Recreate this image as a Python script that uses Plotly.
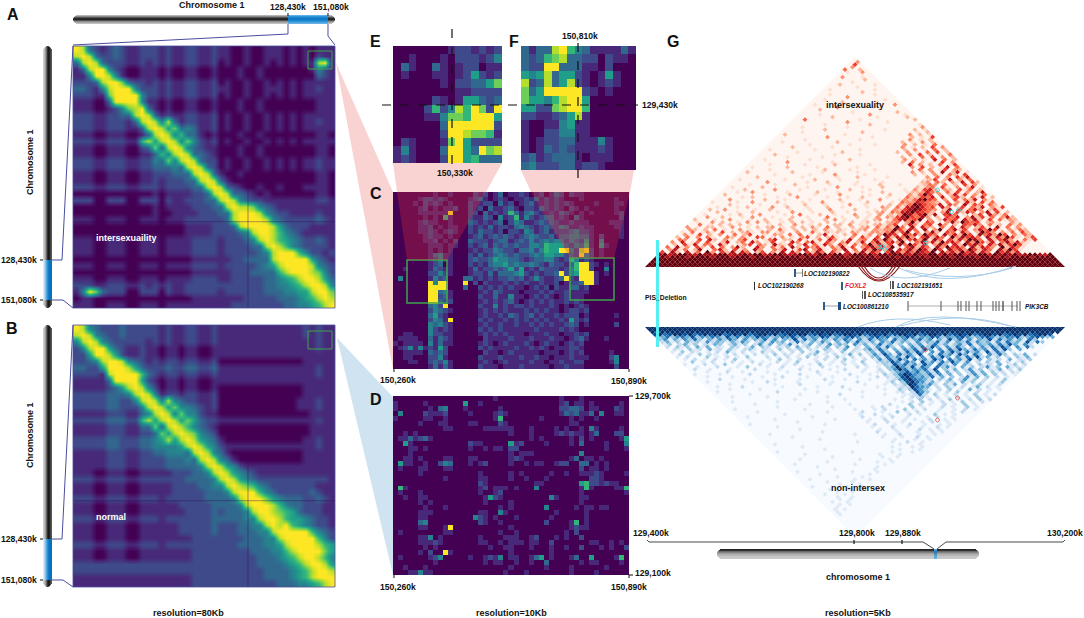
import plotly.graph_objects as go

W, H = 1084, 618

# panel A, 80Kb, one digit per cell
hic_a = [
"9832123211222121122112 110010011101010111",
"8983223211222121122112 110010011101010211",
"3898322211212121122112 010010010101011891",
"1389942100111010011001 000100100000001421",
"1149984100111010011001 000100100000000321",
"2223899732212121122112 010010010101011111",
"3321489994222121122112 110010011101011211",
"2221179999422121122112 010010010101011111",
"1110039999411010011001 000100100000000111",
"1110012478931010011001 000100100000000111",
"2221122338983121122112 010010010101011111",
"2221122213898483122112 010010010101011211",
"2221122211389857343112 010010010101011111",
"1110011100138984633101 000100100000000110",
"2221122211685898474212 010010010101011111",
"1110011100237389843211 000100100000000110",
"1110011100113648983321 000100100000000110",
"2221122211224374898322 010010010101011211",
"2221122211223334389832 010010010101011211",
"1110011100112223338983 100100000000000110",
"1110011100112122233898 310000000000000110",
"2221122211222122223389 832100100100011110",
"0000000000001011112238 983321010000000110",
"2220022200222021122233 898432211111111221",
"0000000000001011112223 389887432111111111",
"0000000000001001111222 338999843221111211",
"1110011100111011122222 238999984322222321",
"0000000000000000011112 223899998532221111",
"0000000000000000011112 222348998643211111",
"1110011100111011112222 122234898654322321",
"1110011100111011112222 122223389864322221",
"1110011100111011112222 122222348999642212",
"0000000000000000001111 112233338999995321",
"1110011100111011112222 122222345899998432",
"0000000000000000001111 112223333689998742",
"1110011100111011112222 112222233456899853",
"2221122211212121122222 222222233445689984",
"1497322200222021122222 122222233344558997",
"0110000000000000001111 111122222333456898",
"1110011100111011111111 112222222233445689",
]

# panel B, 80Kb
hic_b = [
"9843222322222121122112 111111111111121211",
"8984322322222121122112 111111111111121211",
"4898432222212121122112 111111111111111211",
"2489953211211011011001 111111111111111211",
"2259985211211011011001 111111111111111111",
"2234899843212122122112 000000000000011111",
"3322599985322232233223 111111111111111211",
"2222189999632122122112 111111111111111211",
"1111139999521011011001 111111111111111111",
"1111123589842011011001 000000000000011111",
"2222233348984122122112 000000000000011111",
"2222233224898484322112 000000000000111211",
"2222233222489857443212 000000000000111211",
"1111122211348984744211 000000000000001111",
"2222233322685898575322 111111111111111211",
"1111122211337389864321 000000000000001111",
"1111122211223758987432 000000000000001111",
"2222233222334585898543 100000000000011211",
"2222233222334444589854 211111111111111211",
"1111122211223344438984 310000000000011111",
"1111122211222233343898 431000000000011111",
"1111122211222233333489 854211111111111111",
"1110011100111112223348 985432111111111111",
"2221122211222222233334 898543222222222221",
"1110011100111112222334 489876432222222111",
"1110011100111112222233 348999643222223211",
"2221122211222122222233 334899975433322321",
"1110011100111111222223 333489998643322211",
"1110011100111111122223 233348998765322211",
"2221122211222122222223 333344899865543221",
"1110011100111111222223 222334489896543221",
"1110011100111111222223 222333448999996432",
"1110011100111111112222 222233344899999642",
"2221122211222122222222 222333344589999865",
"1110011100111111112222 222223334468999975",
"1110011100111111112222 222222333456899864",
"2222222222222222222222 222222333345689985",
"2222222222222222222222 222222233334568998",
"1111111111111111112222 222222233334568999",
"1111111111111111112222 222222222333445689",
]

# panel C, 10Kb, intersexuality
hic_c = [
"0000000 0100 1000 02120130112101201320211000 000000",
"0000012 2121 0000 12310121011213121210001000 000100",
"0000102 1210 1000 21122031201231121212100001 000110",
"0000012 0101 1200 21203112310221321210210100 000100",
"0000011 1111 9000 22031212631342112132101010 000120",
"0000001 0106 1000 21132041261421233121031000 000020",
"0000012 1100 1000 32121230243112323211211100 001110",
"0000011 2010 1100 21213122134321232243112110 000110",
"0000011 2101 2100 21322120221431231222342210 000010",
"0000001 2110 1000 12312323212343223133443310 200010",
"0000001 1201 0200 32221233123242343442432510 400000",
"0000000 1110 1100 21231323232244365553243610 510000",
"0000000 1010 1000 12122432213342465599428920 100000",
"0000000 1341 1000 21312343232234355442329420 100000",
"0000000 1241 1000 23223544332123344212641210 000000",
"0000000 1230 1000 21213445343343213221369921 010000",
"0010000 1321 1000 13122323525121322212469920 040000",
"0000000 2242 1000 12213133345212122392459991 010000",
"0400000 1423 0003 31212122323124211239219991 000000",
"0000000 9499 0009 02021112121211211201223991 000000",
"0000000 9999 0003 00212121211012120211331200 000000",
"0000000 9934 1000 00121321110111212112111100 000000",
"0000000 9923 1000 00211311411012121012111000 000000",
"0000000 9932 2000 00121212310121212112121000 000000",
"0000000 3429 0000 00211412122121112101012100 000000",
"0000000 2432 1000 00121212111212121101221200 000000",
"0000000 3521 0000 00121121321231211212220100 000100",
"0000000 2431 9000 00212112121212121121521200 000000",
"0000000 4342 1000 00121121121121212112320100 000200",
"0000000 4212 1000 00212121111112111121210000 000000",
"0011000 4221 1000 00121212111011121101121200 000000",
"0111100 3132 1000 00021111211121112110123100 010000",
"1011110 4131 1000 00121012111210121101212000 000000",
"0124141 2152 0000 00212111121121210111221000 000000",
"0011110 3232 0000 00021101211111011101212000 001000",
"0011000 2241 0000 00211121112112110111211100 002400",
"0001100 2324 1000 00121012111121101121122000 001400",
"0000000 1313 1000 00211101112111110112111000 000200",
]

# panel D, 10Kb, normal
hic_d = [
"00000000000000000000100000000000010001000000000",
"10000010000000500100000000000000012011010000010",
"10000001034000100000010000000000022332011000210",
"04000021112000010000121000000000013231130400110",
"10000011001000000000160000000100000101001000000",
"00000100011000011000021000000000000110000000000",
"00000000001100000011111100010000101001041000010",
"00101000000000000000000100010000121211013000220",
"01131231000000000000000000010100000102010000015",
"00510000000000021100000512000010000103000010004",
"00011010000000010010110220000000000000000010001",
"00010000000000000000000101110000000004000000000",
"00110100001100011000000121000000000130110100000",
"05110010024300010120000100101100122003301010000",
"01000110001100000000000000000000000002011010000",
"00000100000000000100000101000001001001112100001",
"00000000001000000110000100100010000000022100000",
"00000000000000000210000000001100000005622121100",
"06100000000000000120111010004000000001610000116",
"01000100000000000100120000000000000001000000001",
"00100110000000000015210000000004100001100000000",
"00000101000000000010000100000000000001000000000",
"00000010001000000000010100000040000010110110000",
"00000111000000000110041000000000100000100000000",
"00000110000000004210100010000001000000100000000",
"00000340000000000210010000000020000160100000000",
"00000110001900000000000100000000000121100000000",
"01000000001100000000010010000000001020000000000",
"00000114010000000100001110012000101002000000000",
"00000111210000000110010111011002000000011001010",
"00000010100000000001001100010001001002000101002",
"00000102009100000000000100000001000000000000000",
"01000001240000010012140110013501000130050000160",
"00000000100000000010110010010030000001011000010",
"00100010000000000000000100000010000100000010000",
"00011411000000000000001000100000000100001000000",
]

# panel E / F, zoomed loop regions
hic_e = [
"00000001221212",
"00100010222124",
"03100310122011",
"01000110125212",
"00000010223357",
"00000000112222",
"00000210155323",
"00002624869729",
"00001147769995",
"00000039999992",
"00000029987761",
"02100017952222",
"14100039953978",
"12100029956333",
]
hic_f = [
"313389643111131",
"323678332202110",
"322993331102000",
"545835521015100",
"823835821012100",
"735999992101000",
"755468995000000",
"552278996000000",
"221123581000000",
"100114511000000",
"100224411000000",
"101223311141000",
"101323211121000",
"231233310111000",
"342223312210000",
]

# panel G, one row per distance from the diagonal, 5Kb
tri_top = [
"888888888888888888888888888888888888888888888888888888888888888888888888888888888888",
"888888888888888888888888888888888888888888888888888888888888888888888888888888888888",
"888888888888888888888888888888888888888888888888888888888888888888888888888888888888",
"888888888888888888888888888888888888888888888888888888888888888888888888888888888888",
"88788878888788878887888878888788887888788888788878888878888788887888787888878888",
"7867887687778867787886788767887688788678878688788768778868788677886878786788768",
"5072061408305271640250317063052740520613 72640586374865807463857264085736",
"0361402700462051307300426015703610427040 63852706473862850746385264073851",
"4071305205040372006304140720535104271503 57463810572640738564072653082641",
"0205160430620013504207215026041630520414 83625074852603740628574063725851",
"3060140510260240630150106304610520360260 47256380147362856407385260473621",
"0430050620310350101460220510140630160340 638407256381740526387406257310415",
"2040304100420310540103010350202510030520 50726483057264083756407263851025",
"0310502030040250010320404010260102040130 3865074628540736285074638503142",
"1040131050202310330120030041021210320133 247258040372054063028530314052",
"0320204010030101020410202020310210123032 33852640703804725036485103142",
"3010220103001020230102020310402002023041 4284070632040506302510704031",
"0040102020201000102003001020022030110231 350263045073020546304120413",
"0100302001030302001020201002001020120102 34038205400372854502310031",
"2000100300010020010200010020301000102301 4674580302645063720504132",
"0030020001030001000200100040010020103032 578547302054603725140362",
"0100001020003000010040002001000300103021 38746827056401025063140",
"0002000100200001003000100020010001023043 6786542037052640371502",
"0200300000100200010001000300002000102032 578754302705146302510",
"0010001020000300200010002001000010032041 67864506301504260315",
"0000200000100001000200010000300100002032 4875436053071530420",
"1000010030000200001000300010000200001043 365432040316205140",
"0003000000200010000100000200010003000132 47854030514260310",
"0000010200001000300000100010020000100042 2546060352041602",
"0200000001000020000100003000001000200031 485030261503140",
"0001003000000100000200010000100020000122 36430415030260",
"0000200000300001000010000200010000001031 5620320514020",
"0100000200000000100000300001000200000021 340510302601",
"0000100001000200000010000100002000100012 43040205130",
"0000000300000001000200000100001000000023 0420316052",
"0100000000100000200001000000100000000012 502603140",
"0000200000000100000010002000001000000030 40305260",
"0000000100000010000300000100000000020103 1042050",
"0200000000200000100000010000000000302030 702601",
"0000010000000000200001000010000000040301 50320",
"0100000020000010000000100000000003050201 6040",
"0000100000010000020000001000000060302040 150",
"0000000300000000100000000000002040201050 30",
"0010000000010000000200000000003020106040 2",
"0000001000000100000000000000020104050302",
"000200000000000100001000000000305020104",
"00000001000000002000000000020301040502",
"0100000000100000000100000000203010402",
"000002000000010000000000000301020503",
"00000000100000001000010000030201040",
"0010000000000200000000000020103020",
"000000100000000001000000000301020",
"00000000003000000001000000020105",
"0200000000000100000000000030201",
"000010000000000020000000000102",
"00000000200000000000100000201",
"0001000000001000000000000003",
"000000010000000020000000001",
"00000000000300000001000000",
"0040000000000100000000002",
"000000020000000010000020",
"00001000000000300000010",
"0000000000100000000200",
"000200000000000100000",
"00000040000001000000",
"0100000000000000030",
"000000200000010000",
"00100000000000100",
"0000003000000000",
"001000000001000",
"00000000200000",
"0100000000100",
"000000100000",
"00200000010",
"0000100000",
"000000200",
"03000100",
"0000000",
"010030",
"40020",
"0300",
"050",
"03",
"0",
]

tri_bottom = [
"888888888888888888888888888888888888888888888888888888888888888888888888888888888888",
"888888888888888888888888888888888888888888888888888888888888888888888888888888888888",
"888888888888888888888888888888888888888888888888888888888888888888888888888888888888",
"78678878678788678786788786787886787867887867878678878678878678786788786787867887",
"5463564735465374635476534657463547635467 5346756345763547635467534675346573467534",
"3514253631425364152436251437263514253641 526354163524635142736251437263524163",
"2413042315243142530241534026314253041526 3241536243152436251436253415263417263",
"1302413021430241302514032510240315243052 4136241304251362413526143526374152",
"2031304140210320140320213041302140315020 4152630415263741526304152637405162",
"0210312041203102310210302130210320140213 5263041536274051637426351627304",
"1030210102041020103120102030140210302102 41630526374051637426351726301",
"0201030210102010201030210102301020140302 527416352704163527416305263031402",
"1020003010201030002010201030102031020103 41635274051637405263724130203140",
"0102010201030010001030102001020103010201 5263741635274063527140312040213",
"0030102000201020100201030002001020103002 337526407352637415020314020130",
"1000201030010002010010200103010020102001 32746352740631504203120401302",
"0010002000103000100200010002001000201010 3485372640635204130251304121",
"0200100010000200001000201000100200010020 358635462703140251302140203",
"0001000200100001000100000200010000100120 24574635260413025140312021",
"1000010000020000100002000100000200010031 3687543625140302514030201",
"0010000100000100020000100001000010002021 378645361403025140302010",
"0000200001000001000010000200010000100012 47865420314025130201030",
"0100000000100200000100000010000200000130 3786524103204130201030",
"0000010000000010000200000100000010001021 387435203140201301020",
"0010000200000001000000100002000000100012 28654020310201402010",
"0000100000100000000100000000100000010031 3753102030104020101",
"0100000000000200000001000000001000000120 275301020301020100",
"0000000100000000010000000200000000100011 26203010201030102",
"0001000000100000000000100000010000000102 2310201020103010",
"0000000000000001000000000100000000010010 302010301020302",
"0010000000010000000001000000000000001020 30102010301020",
"00000010000000000100000001000000 020003020100201030100",
"00000000001000000000010000000 10200100301000201003010",
"0100000000000001000000000 10001020003010200100102010",
"0000010000000000000100000 02000100301020001001020",
"0000000000100000000000000 100200100020100301010",
"0010000000000001000000000 20001020010001020010",
"0000000100000000000100000 0100200010100200101",
"0000000000010000000000000 100020010001020010",
"0100000000000000100000000 02000100200100101",
"0000001000000000000000000 1000200100100201",
"0000000000100000000000000 010010000201010",
"0000000000000010000000000 20001000100101",
"0001000000000000000010000 0100200010010",
"0000000100000000000000000 100010020100",
"000000000000100000000000000100010010",
"00000000000000000001000000100200100",
"0010000000000000000000000001000100",
"000000010000000000000000010001010",
"00000000000100000000000000100010",
"0100000000000000100000001000100",
"000000100000000000000100010",
"00000000000100000000010010",
"0000100000000000100000100",
"000000000100000000010010",
"00100000000000100000100",
"0000001000000000001000",
"000000000100000001000",
"01000000000010000100",
"0000010000000001000",
"000000001000010000",
"00100000000100100",
"0000010000100000",
"000000010001000",
"01000000100100",
"0000100010000",
"000001001000",
"00100010000",
"0000100100",
"000010100",
"00100100",
"0001010",
"001000",
"01010",
"0100",
"010",
"00",
"0",
"0",
"0",
"0",
"0",
"0",
"0",
]

# loop calls on the triangles (axis units of panel G)
calls_top_x = [58.0, 60.8, 62.2, 55.6, 46.4, 47.0, 47.4]
calls_top_y = [15.4, 11.0, 11.4, 4.8, 4.0, 4.2, 3.6]
calls_bottom_x = [55.6, 62.0, 58.0]
calls_bottom_y = [4.6, 14.2, 18.6]

viridis = [[0, "#440154"], [0.11, "#482878"], [0.22, "#3e4989"], [0.33, "#31688e"], [0.44, "#26828e"],
           [0.55, "#1f9e89"], [0.67, "#35b779"], [0.78, "#6ece58"], [0.89, "#b5de2b"], [1, "#fde725"]]
reds = ["#fff5f0", "#fee0d2", "#fcbba1", "#fc9272", "#fb6a4a", "#ef3b2c", "#cb181d", "#a50f15", "#67000d"]
blues = ["#f7fbff", "#deebf7", "#c6dbef", "#9ecae1", "#6baed6", "#4292c6", "#2171b5", "#08519c", "#08306b"]

INK = "#111111"
LINK = "#4a4e9e"
GREEN = "#3fa34d"
FONT = "Liberation Sans"
COORD = 8.6


def px(x):
    return x / W


def py(y):
    return 1 - y / H


def digits(rows):
    rows = [r.replace(" ", "") for r in rows]
    n = max(len(r) for r in rows)
    return [[int(c) for c in r.ljust(n, "0")] for r in rows]


fig = go.Figure()
shapes = []
notes = []
axis_no = 0


def heat(rows, x0, x1, y0, y1, smooth=None):
    global axis_no
    axis_no += 1
    z = digits(rows)
    s = "" if axis_no == 1 else str(axis_no)
    fig.add_trace(go.Heatmap(z=z, xaxis="x" + s, yaxis="y" + s, colorscale=viridis, zmin=0, zmax=9,
                             showscale=False, zsmooth=smooth, hoverinfo="skip"))
    fig.update_layout({
        "xaxis" + s: dict(domain=[px(x0), px(x1)], range=[-0.5, len(z[0]) - 0.5], visible=False, anchor="y" + s),
        "yaxis" + s: dict(domain=[py(y1), py(y0)], range=[len(z) - 0.5, -0.5], visible=False, anchor="x" + s),
    })


def triangle(rows, palette, x0, x1, y_base, y_apex, msize):
    global axis_no
    axis_no += 1
    s = str(axis_no)
    n = len(rows)
    xs, ys, cs = [], [], []
    for d, r in enumerate(rows):
        r = r.replace(" ", "")[:n - d].ljust(n - d, "0")
        for k, c in enumerate(r):
            xs.append(k + d / 2)
            ys.append(d / 2)
            cs.append(palette[int(c)])
    fig.add_trace(go.Scatter(x=xs, y=ys, mode="markers", xaxis="x" + s, yaxis="y" + s, hoverinfo="skip",
                             marker=dict(symbol="diamond", size=msize, color=cs, line=dict(width=0))))
    lo, hi = min(y_base, y_apex), max(y_base, y_apex)
    yrange = [0, n / 2] if y_base > y_apex else [n / 2, 0]
    fig.update_layout({
        "xaxis" + s: dict(domain=[px(x0), px(x1)], range=[-0.5, n - 0.5], visible=False, anchor="y" + s),
        "yaxis" + s: dict(domain=[py(hi), py(lo)], range=yrange, visible=False, anchor="x" + s),
    })
    return "x" + s, "y" + s


def poly(points, fill, line=None, width=1, layer="above"):
    path = "M " + " L ".join(f"{px(x):.5f} {py(y):.5f}" for x, y in points) + " Z"
    shapes.append(dict(type="path", path=path, xref="paper", yref="paper", fillcolor=fill, layer=layer,
                       line=dict(color=line or "rgba(0,0,0,0)", width=width if line else 0)))


def seg(points, color=INK, width=1, dash=None):
    path = "M " + " L ".join(f"{px(x):.5f} {py(y):.5f}" for x, y in points)
    shapes.append(dict(type="path", path=path, xref="paper", yref="paper",
                       line=dict(color=color, width=width, dash=dash or "solid")))


def box(x0, y0, x1, y1, line=None, fill=None, width=1.5):
    shapes.append(dict(type="rect", xref="paper", yref="paper", x0=px(x0), x1=px(x1), y0=py(y0), y1=py(y1),
                       fillcolor=fill or "rgba(0,0,0,0)",
                       line=dict(color=line or "rgba(0,0,0,0)", width=width if line else 0)))


def curve(x0, y0, cx, cy, x1, y1, color, width=1):
    path = f"M {px(x0):.5f} {py(y0):.5f} Q {px(cx):.5f} {py(cy):.5f} {px(x1):.5f} {py(y1):.5f}"
    shapes.append(dict(type="path", path=path, xref="paper", yref="paper", line=dict(color=color, width=width)))


def text(x, y, s, size=9, color=INK, bold=True, anchor="center", angle=0, italic=False):
    t = f"<b>{s}</b>" if bold else s
    t = f"<i>{t}</i>" if italic else t
    notes.append(dict(x=px(x), y=py(y), xref="paper", yref="paper", text=t, showarrow=False, xanchor=anchor,
                      yanchor="middle", textangle=angle, borderpad=0, font=dict(family=FONT, size=size, color=color)))


# stripes give the metallic look of the ideograms
GRAYS_H = ["#b5b5b5", "#8a8a8a", "#555555", "#2b2b2b", "#222222", "#555555", "#8a8a8a", "#aaaaaa", "#c0c0c0"]
GRAYS_G = ["#222222", "#333333", "#4a4a4a", "#6a6a6a", "#888888", "#a0a0a0", "#b4b4b4", "#c4c4c4", "#cccccc"]
GRAYS_V = ["#d0d0d0", "#bdbdbd", "#9a9a9a", "#6a6a6a", "#333333", "#1a1a1a", "#222222", "#444444", "#555555"]
BLUES_H = ["#5fb0e6", "#2f96dc", "#1a86d0", "#117ac6", "#117ac6", "#1a86d0", "#2f96dc", "#4aa4e0", "#6ab4e8"]
BLUES_V = ["#dcecf6", "#b4d8f0", "#84c0e8", "#54a8e0", "#2a92d8", "#1080cc", "#0a72b8", "#0a72b8", "#0a72b8"]


def chrom_h(x0, x1, y0, y1, colors, blue_from=None, blue_to=None, blue=BLUES_H):
    n = len(colors)
    h = (y1 - y0) / n
    for i, c in enumerate(colors):
        inset = abs(i - (n - 1) / 2) ** 2 / ((n - 1) / 2) ** 2 * 3 if n > 1 else 0
        box(x0 + inset, y0 + i * h, x1 - inset, y0 + (i + 1) * h, fill=c)
        if blue_from is not None:
            box(blue_from, y0 + i * h, blue_to, y0 + (i + 1) * h, fill=blue[i])


def chrom_v(x0, x1, y0, y1, colors, blue_from, blue_to):
    n = len(colors)
    w = (x1 - x0) / n
    for i, c in enumerate(colors):
        inset = abs(i - (n - 1) / 2) ** 2 / ((n - 1) / 2) ** 2 * 3
        box(x0 + i * w, y0 + inset, x0 + (i + 1) * w, y1 - inset, fill=c)
        box(x0 + i * w, blue_from, x0 + (i + 1) * w, blue_to, fill=BLUES_V[i])


# connector wedges between panels, under the maps
poly([(336, 63), (393, 192), (393, 369)], "#f9d2d2", layer="below")
poly([(337, 338), (393, 397), (393, 575)], "#cfe3f0", layer="below")
poly([(393, 163), (502, 163), (486, 192), (397, 192)], "#f9d2d2", layer="below")
poly([(521, 170), (634, 170), (630, 192), (531, 192)], "#f9d2d2", layer="below")
poly([(645, 267), (855, 57), (1065, 267)], reds[0], layer="below")
poly([(645, 327), (855, 537), (1065, 327)], blues[0], layer="below")

heat(hic_a, 73, 335, 46, 308, "best")
heat(hic_b, 73, 335, 325, 587, "best")
heat(hic_e, 393, 502, 46, 163)
heat(hic_f, 521, 636, 46, 170)
heat(hic_c, 393, 629, 192, 369)
heat(hic_d, 393, 629, 396, 575)

xt, yt = triangle(tri_top, reds, 645, 1065, 267, 57, 3.9)
xb, yb = triangle(tri_bottom, blues, 645, 1065, 327, 537, 3.9)
fig.add_trace(go.Scatter(x=calls_top_x, y=calls_top_y, mode="markers", xaxis=xt, yaxis=yt, hoverinfo="skip",
                         marker=dict(symbol="diamond-open", size=3.5, color="#35d6e0", line=dict(width=1))))
fig.add_trace(go.Scatter(x=calls_bottom_x, y=calls_bottom_y, mode="markers", xaxis=xb, yaxis=yb, hoverinfo="skip",
                         marker=dict(symbol="diamond-open", size=3.5, color="#e0403a", line=dict(width=0.8))))

# dark cross through the big domain of A and B
for y0, y1, cy in [(46, 308, 221.7), (325, 587, 500.7)]:
    seg([(73, cy), (335, cy)], "rgba(50,10,90,0.45)", 0.9)
    seg([(248, y0 + 142), (248, y1)], "rgba(50,10,90,0.5)", 0.9)

# ideograms
chrom_h(73, 335, 15, 24, GRAYS_H, 288, 328)
chrom_v(43, 52, 46, 308, GRAYS_V, 260, 300)
chrom_v(43, 52, 325, 587, GRAYS_V, 539, 580)
chrom_h(717, 979, 549, 559, GRAYS_G, 934, 937)

# links from the ideograms to the maps
seg([(288, 24), (288, 34), (73, 45)], LINK)
seg([(328, 24), (328, 36), (335, 45)], LINK)
seg([(52, 260), (62, 260), (73, 46)], LINK)
seg([(52, 300), (63, 300), (73, 308)], LINK)
seg([(52, 539), (62, 539), (73, 325)], LINK)
seg([(52, 580), (63, 580), (73, 587)], LINK)
box(73, 46, 335, 308, line=LINK, width=0.8)
box(73, 325, 335, 587, line=LINK, width=0.8)
seg([(288, 13), (288, 16)], INK, 1)
seg([(328, 13), (328, 16)], INK, 1)
for y in (260, 300, 539, 580):
    seg([(40, y), (43, y)], INK, 1)

# green boxes
box(308, 51, 332, 69, line=GREEN, width=1)
box(308, 331, 332, 349, line=GREEN, width=1)
box(407, 260, 447, 303, line=GREEN)
box(570, 258, 614, 300, line=GREEN)

# wedges that run over panel C
poly([(397, 192), (486, 192), (447, 260), (407, 260)], "rgba(230,50,60,0.3)")
poly([(531, 192), (630, 192), (614, 258), (570, 258)], "rgba(230,50,60,0.3)")

# E / F crosshair
seg([(452, 29), (452, 166)], INK, 1.2, "dash")
seg([(382, 105), (638, 105)], INK, 1.2, "dash")
seg([(578, 43), (578, 183)], INK, 1.2, "dash")

# ticks of C and D
for x in (394, 629):
    seg([(x, 369), (x, 372)], INK, 1)
    seg([(x, 575), (x, 578)], INK, 1)
seg([(629, 396), (633, 396)], INK, 1)
seg([(629, 575), (633, 575)], INK, 1)

# tracks between the triangles
box(656, 240, 659, 347, fill="#55eef2")
for x0, x1, yy, dy, col, w in [(858, 900, 266, 15, "#8b1a1a", 1.2), (861, 896, 266, 14, "#8b1a1a", 1.2),
                               (864, 893, 266, 12, "#8b1a1a", 1.2)]:
    curve(x0, yy, (x0 + x1) / 2, yy + 2 * dy, x1, yy, col, w)
curve(870, 268, 900, 288, 950, 268, "#a9cde8", 1)
curve(899, 268, 945, 290, 1016, 266, "#a9cde8", 1)
curve(905, 270, 960, 284, 1012, 268, "#a9cde8", 1)
curve(858, 327, 895, 312, 950, 325, "#a9cde8", 1)
curve(896, 327, 930, 307, 1016, 327, "#a9cde8", 1)
curve(900, 326, 960, 310, 1010, 326, "#a9cde8", 1)

GENE = "#2f5d8a"
for x0, x1, yy, c in [(794, 796, 273, GENE), (802, 803, 273, "#777777"), (754, 755, 286, "#333333"),
                      (841, 843, 286, GENE), (890, 891, 285, "#555555"), (892, 894, 285, "#555555"),
                      (862, 863, 295, "#555555"), (864, 866, 295, "#555555"), (823, 825, 306, GENE),
                      (838, 841, 306, "#1d4f7a")]:
    box(x0, yy - 4, x1, yy + 4, fill=c)
seg([(796, 273), (802, 273)], "#888888", 0.8)
seg([(825, 306), (838, 306)], "#888888", 0.8)
seg([(908, 306), (1018, 306)], "#999999", 0.8)
exons = [908, 941, 958, 961, 966, 969, 977, 981, 993, 996, 999, 1003, 1012, 1017, 1020]
for x in exons:
    seg([(x, 301), (x, 311)], "#555555" if x != 1003 else "#111111", 1)

text(803, 273, "LOC102190822", 6.4, anchor="left", italic=True)
text(757, 286, "LOC102190268", 6.4, anchor="left", italic=True)
text(844, 286, "FOXL2", 6.6, color="#e8202a", anchor="left", italic=True)
text(896, 286, "LOC102191651", 6.4, anchor="left", italic=True)
text(867, 295, "LOC108535917", 6.4, anchor="left", italic=True)
text(842, 306, "LOC100861210", 6.4, anchor="left", italic=True)
text(1024, 306, "PIK3CB", 6.4, anchor="left", italic=True)
text(644, 298, "PIS_Deletion", 6.8, anchor="left")

# labels
for s, x, y in [("A", 13, 15), ("B", 12, 328), ("E", 375, 41), ("F", 514, 41), ("G", 673, 41), ("C", 376, 194),
                ("D", 376, 399)]:
    text(x, y, s, 16)

text(212, 5, "Chromosome 1")
text(288, 7, "128,430k", COORD)
text(331, 7, "151,080k", COORD)
text(30, 162, "Chromosome 1", angle=-90)
text(30, 435, "Chromosome 1", angle=-90)
for y, s in [(260, "128,430k"), (300, "151,080k"), (539, "128,430k"), (580, "151,080k")]:
    text(38, y, s, COORD, anchor="right")
text(126, 238, "intersexuaility", color="white")
text(111, 517, "normal", color="white")
text(455, 173, "150,330k", COORD)
text(580, 36, "150,810k", COORD)
text(641, 105, "129,430k", COORD, anchor="left")
text(398, 380, "150,260k", COORD)
text(629, 381, "150,890k", COORD)
text(398, 587, "150,260k", COORD)
text(629, 587, "150,890k", COORD)
text(634, 396, "129,700k", COORD, anchor="left")
text(632, 533, "129,400k", COORD, anchor="left")
text(634, 573, "129,100k", COORD, anchor="left")
text(855, 105, "intersexuality")
text(858, 488, "non-intersex")
text(857, 533, "129,800k", COORD)
text(903, 533, "129,880k", COORD)
text(1065, 533, "130,200k", COORD)
text(858, 577, "chromosome 1")
text(188, 613, "resolution=80Kb")
text(511, 613, "resolution=10Kb")
text(858, 613, "resolution=5Kb")

# bracket above the bottom ideogram
seg([(647, 540), (649, 542), (923, 542), (934, 549)], "#333333", 0.9)
seg([(937, 549), (946, 542), (1063, 542), (1065, 540)], "#333333", 0.9)
seg([(854, 540), (854, 544)], INK, 1.2)
seg([(902, 540), (902, 544)], INK, 1.2)

fig.update_layout(width=W, height=H, margin=dict(l=0, r=0, t=0, b=0), showlegend=False, autosize=False,
                  paper_bgcolor="white", plot_bgcolor="rgba(0,0,0,0)", shapes=shapes, annotations=notes,
                  font=dict(family=FONT, size=9))
fig.write_html("out.html", config=dict(displayModeBar=False),
               post_script="document.body.style.margin='0';document.body.style.overflow='hidden';")
